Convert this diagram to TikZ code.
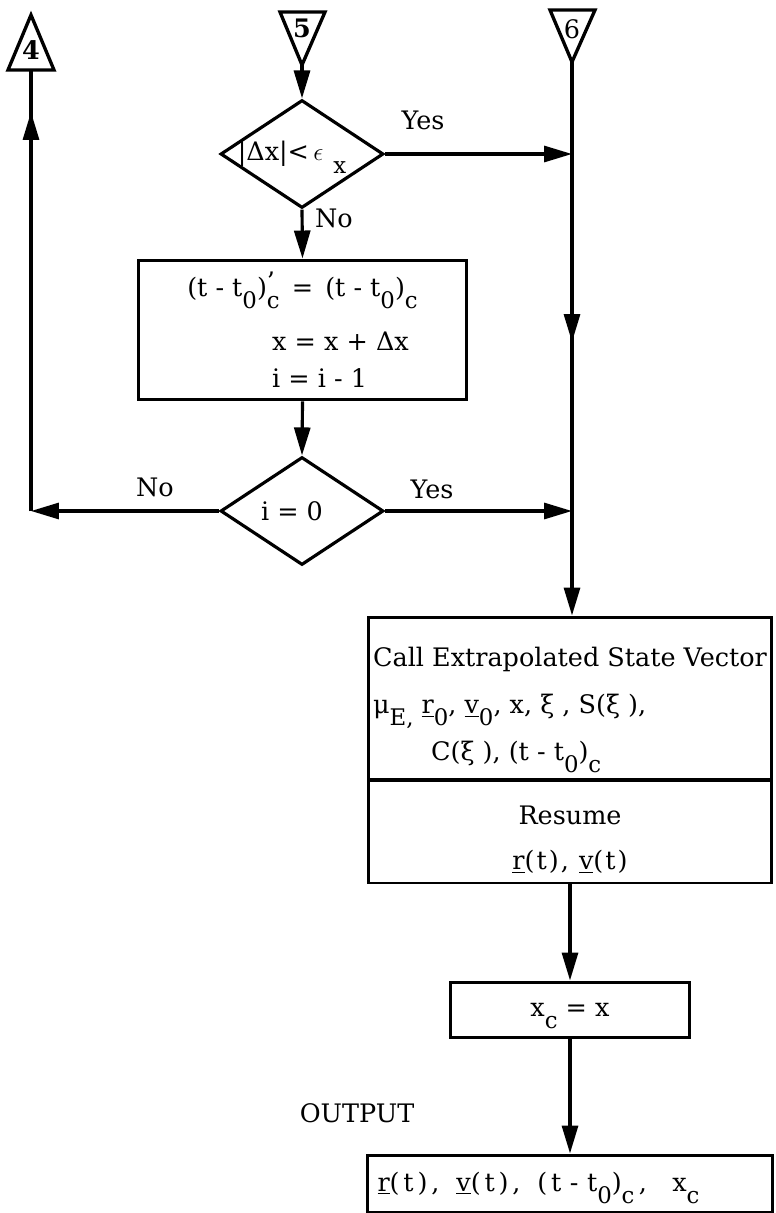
\documentclass[tikz,border=0pt]{standalone}
\usepackage{fontspec}
\setmainfont{DejaVu Serif}
\usetikzlibrary{positioning,arrows.meta,shapes.geometric}
\newcommand{\lowsub}[1]{\raisebox{-7pt}[0pt][0pt]{\fontsize{13}{13}\selectfont #1}}

\begin{document}
\begin{tikzpicture}[x=0.02cm, y=-0.02cm,
        every node/.style={font=\fontsize{14.5}{17}\selectfont},
        pbox/.style={draw, line width=1.7pt, inner sep=0pt, align=left},
        dbox/.style={draw, diamond, line width=1.8pt, inner sep=0pt,
                     minimum width=3.26cm, minimum height=2.16cm},
        tri/.style={draw, line width=1.9pt, line join=miter},
        lbl/.style={inner sep=1pt},
        line/.style={line width=1.8pt},
        arr/.style={-{Triangle[length=0.56cm,width=0.32cm]}, line width=1.8pt}
    ]
    \useasboundingbox (0,0) rectangle (775,1213);
    % connector triangles
    \draw[tri] (8,70) -- (31,15) -- (54,70) -- cycle;
    \node (n4) at (31,50) {\textbf{4}};
    \coordinate (t4) at (31,70);
    \draw[tri] (280,12) -- (325,12) -- (302,65) -- cycle;
    \node (n5) at (302,28) {\textbf{5}};
    \coordinate (t5) at (302,65);
    \draw[tri] (550,10) -- (595,10) -- (572,62) -- cycle;
    \node (n6) at (572,29) {6};
    \coordinate (t6) at (572,62);

    % left loop
    \node[dbox] (d1) at (302,154) {\makebox[0pt]{|Δx|<\,$\epsilon$\hspace{0.2cm}\lowsub{x}\hspace{0.4cm}}};
    \node[pbox, minimum width=6.58cm, minimum height=2.8cm] (b1) at (302.5,330)
        {(t - t\lowsub{0})\makebox[0pt][l]{\raisebox{3pt}{'}}\lowsub{c}\hspace{0.08cm} =\hspace{0.08cm} (t - t\lowsub{0})\lowsub{c}\\[14.2pt]
         \hspace*{1.7cm}x = x + Δx\\[4pt]
         \hspace*{1.7cm}i = i - 1};
    \node[dbox] (d2) at (302,511) {\makebox[0pt]{\raisebox{-4pt}{i = 0}\hspace{0.4cm}}};

    % right column
    \node[pbox, minimum width=8.08cm, minimum height=3.26cm] (b2a) at (570,698.5)
        {\rule{0pt}{20pt}Call Extrapolated State Vector\\[9.6pt]
         μ\lowsub{E,} \underline{r}\lowsub{0}, \underline{v}\lowsub{0}, x, ξ , S(ξ ),\\[9.6pt]
         \hspace*{1.16cm}C(ξ ), (t - t\lowsub{0})\lowsub{c}};
    \node[pbox, align=center, minimum width=8.08cm, minimum height=2.06cm] (b2b) at (570,831.5)
        {\rule{0pt}{20pt}Resume\\[8.5pt]\addfontfeature{LetterSpace=8}\underline{r}(t), \underline{v}(t)};
    \node[pbox, align=center, minimum width=4.8cm, minimum height=1.1cm] (b3) at (570,1009.5)
        {x\lowsub{c} = x};
    \node[pbox, align=left, minimum width=8.1cm, minimum height=1.14cm, text width=7.9cm] (b4) at (570,1183.5)
        {\addfontfeature{LetterSpace=15}\hspace*{0.1cm}\underline{r}(t),\ \ \underline{v}(t),\ \ (t - t\lowsub{0})\lowsub{c}\,,\ \ \ x\lowsub{c}};
    \node[lbl] (outlbl) at (357,1113) {OUTPUT};

    % junctions
    \coordinate (j1) at (572,154);
    \coordinate (m6) at (572,342);
    \coordinate (j2) at (572,511);
    \coordinate (k4) at (31,511);
    \coordinate (m4) at (31,112);

    \draw[arr] (t5) -- (d1.north);
    \draw[arr] (d1.east) -- (j1);
    \node[lbl] (yes1) at (423,120) {Yes};
    \draw[arr] (d1.south) -- (b1.north);
    \node[lbl] (no1) at (334,218) {No};
    \draw[arr] (b1.south) -- (d2.north);
    \draw[arr] (d2.west) -- (k4);
    \node[lbl] (no2) at (155,487) {No};
    \draw[line] (k4) -- (t4);
    \draw[arr] (k4) -- (m4);
    \draw[arr] (d2.east) -- (j2);
    \node[lbl] (yes2) at (432,489) {Yes};
    \draw[line] (t6) -- (j2);
    \draw[arr] (j1) -- (m6);
    \draw[arr] (j2) -- (j2 |- b2a.north);
    \draw[arr] (b2b.south) -- (b3.north);
    \draw[arr] (b3.south) -- (b4.north);
\end{tikzpicture}
\end{document}
